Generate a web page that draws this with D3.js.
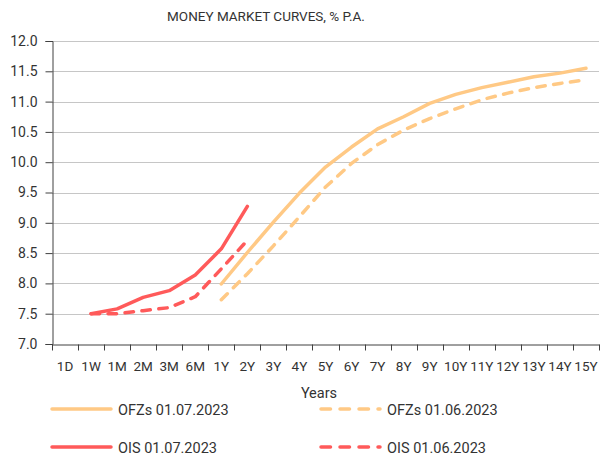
<!DOCTYPE html>
<html>
<head>
<meta charset="utf-8">
<script src="https://cdn.jsdelivr.net/npm/d3@7"></script>
<style>
  body { margin: 0; background: #fff; }
  text { font-family: Roboto, "Liberation Sans", sans-serif; fill: #333; }
</style>
</head>
<body>
<div id="chart"></div>
<script>
const tenors = ["1D", "1W", "1M", "2M", "3M", "6M", "1Y", "2Y", "3Y", "4Y", "5Y", "6Y", "7Y",
    "8Y", "9Y", "10Y", "11Y", "12Y", "13Y", "14Y", "15Y"];
const yTicks = [7.0, 7.5, 8.0, 8.5, 9.0, 9.5, 10.0, 10.5, 11.0, 11.5, 12.0];

// OIS curves, 1W .. 2Y
const oisTenors = ["1W", "1M", "2M", "3M", "6M", "1Y", "2Y"];
const ois0107 = [7.50, 7.58, 7.77, 7.88, 8.14, 8.57, 9.27];
const ois0106 = [7.50, 7.50, 7.55, 7.60, 7.78, 8.24, 8.71];

// OFZ curves, 1Y .. 15Y
const ofzTenors = ["1Y", "2Y", "3Y", "4Y", "5Y", "6Y", "7Y", "8Y", "9Y", "10Y", "11Y", "12Y", "13Y", "14Y", "15Y"];
const ofz0107 = [7.99, 8.51, 9.01, 9.49, 9.92, 10.25, 10.55, 10.75, 10.97, 11.12, 11.23, 11.32, 11.41, 11.47, 11.55];
const ofz0106 = [7.73, 8.16, 8.62, 9.10, 9.59, 9.98, 10.29, 10.53, 10.72, 10.88, 11.03, 11.14, 11.23, 11.30, 11.36];

const series = [
    { name: "OFZs 01.07.2023", x: ofzTenors, y: ofz0107, color: "#ffc985", dashed: false },
    { name: "OFZs 01.06.2023", x: ofzTenors, y: ofz0106, color: "#ffc985", dashed: true },
    { name: "OIS 01.07.2023", x: oisTenors, y: ois0107, color: "#ff5a5a", dashed: false },
    { name: "OIS 01.06.2023", x: oisTenors, y: ois0106, color: "#ff5a5a", dashed: true }
];

const width = 601, height = 459;
const margin = { left: 52, right: 2, top: 41, bottom: 115 };

const svg = d3.select("#chart").append("svg")
    .attr("width", width)
    .attr("height", height);

const x = d3.scaleBand()
    .domain(tenors)
    .range([margin.left, width - margin.right]);

const y = d3.scaleLinear()
    .domain([7, 12])
    .range([height - margin.bottom, margin.top]);

svg.append("text")
    .attr("x", 266)
    .attr("y", 21)
    .attr("text-anchor", "middle")
    .style("font-size", "13.5px")
    .text("MONEY MARKET CURVES, % P.A.");

// gridlines
svg.append("g")
    .selectAll("line")
    .data(yTicks.filter(d => d > 7))
    .join("line")
    .attr("x1", margin.left)
    .attr("x2", width - margin.right)
    .attr("y1", d => Math.round(y(d)) + 0.5)
    .attr("y2", d => Math.round(y(d)) + 0.5)
    .attr("stroke", "#c6c6c6")
    .attr("stroke-width", 1);

// y axis
const yAxis = svg.append("g")
    .attr("transform", `translate(${margin.left + 0.5},0)`)
    .call(d3.axisLeft(y).tickValues(yTicks).tickFormat(d3.format(".1f")).tickSize(7).tickPadding(8));
yAxis.select(".domain").attr("stroke", "#404040");
yAxis.selectAll(".tick line").attr("stroke", "#404040");
yAxis.selectAll(".tick text").style("font-size", "14px").attr("fill", "#333");

// x axis, ticks on category boundaries
const xAxis = svg.append("g")
    .attr("transform", `translate(0,${Math.round(y(7)) + 0.5})`)
    .call(d3.axisBottom(x).tickSize(0).tickPadding(17));
xAxis.select(".domain").attr("stroke", "#404040").attr("stroke-width", 1);
xAxis.selectAll(".tick text").style("font-size", "13.5px").attr("fill", "#333");
xAxis.selectAll(".bound")
    .data(tenors.map(t => x(t)).concat([x.range()[1]]))
    .join("line")
    .attr("class", "bound")
    .attr("x1", d => Math.round(d) + 0.5)
    .attr("x2", d => Math.round(d) + 0.5)
    .attr("y1", 0)
    .attr("y2", 6)
    .attr("stroke", "#404040");

svg.append("text")
    .attr("x", 319)
    .attr("y", 398)
    .attr("text-anchor", "middle")
    .style("font-size", "14.5px")
    .text("Years");

// lines
const line = d3.line()
    .x(d => x(d[0]) + x.bandwidth() / 2)
    .y(d => y(d[1]));

svg.append("g")
    .selectAll("path")
    .data(series)
    .join("path")
    .attr("d", s => line(s.x.map((t, i) => [t, s.y[i]])))
    .attr("fill", "none")
    .attr("stroke", s => s.color)
    .attr("stroke-width", 3.5)
    .attr("stroke-linecap", "round")
    .attr("stroke-linejoin", "round")
    .attr("stroke-dasharray", s => s.dashed ? "8.5,8.5" : null);

// legend
const legendPos = [[52, 409], [321, 409], [52, 447], [321, 447]];
const legend = svg.append("g")
    .selectAll("g")
    .data(series)
    .join("g")
    .attr("transform", (s, i) => `translate(${legendPos[i][0]},${legendPos[i][1]})`);

legend.append("line")
    .attr("x1", 0)
    .attr("x2", 59)
    .attr("stroke", s => s.color)
    .attr("stroke-width", 3.5)
    .attr("stroke-linecap", "round")
    .attr("stroke-dasharray", s => s.dashed ? "9.5,9.5" : null);

legend.append("text")
    .attr("x", 66)
    .attr("y", 5.5)
    .style("font-size", "14.5px")
    .text(s => s.name);
</script>
</body>
</html>
